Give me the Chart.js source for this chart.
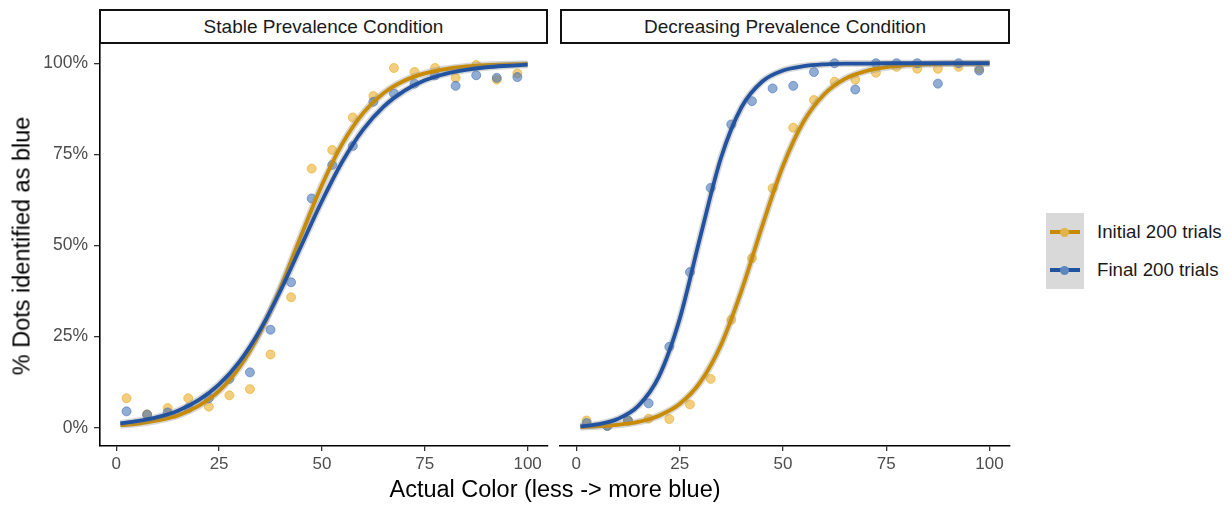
<!DOCTYPE html>
<html>
<head>
<meta charset="utf-8">
<script src="https://cdn.jsdelivr.net/npm/chart.js@4.4.1/dist/chart.umd.min.js"></script>
<style>
  html, body { margin:0; padding:0; background:#fff; }
  body { width:1231px; height:505px; position:relative; overflow:hidden;
         font-family:"Liberation Sans", Arial, Helvetica, sans-serif; }
  canvas { position:absolute; }
  .strip { position:absolute; top:9px; height:35px; box-sizing:border-box;
           border:2px solid #111; background:#fff; color:#1a1a1a;
           font-size:19px; line-height:32px; text-align:center; }
  .xtitle { position:absolute; left:0; width:1110px; top:476px; text-align:center;
            font-size:23.5px; color:#000; }
  .ytitle { position:absolute; left:22px; top:246px; transform:translate(-50%,-50%) rotate(-90deg);
            white-space:nowrap; font-size:23.5px; color:#000; }
  .legend { position:absolute; left:1046px; top:213px; }
  .key { position:absolute; left:0; width:38px; height:38px; background:#d9d9d9; }
  .key .ln { position:absolute; left:4px; width:30px; height:3.6px; top:17px; }
  .key .dt { position:absolute; left:14px; top:14.5px; width:9px; height:9px; border-radius:50%; }
  .lab { position:absolute; left:51px; font-size:18.7px; color:#1a1a1a; white-space:nowrap; line-height:38px; }
</style>
</head>
<body>
<canvas id="c1" width="556" height="480" style="left:0;top:0;width:556px;height:480px"></canvas>
<canvas id="c2" width="473" height="480" style="left:552px;top:0;width:473px;height:480px"></canvas>

<div class="strip" style="left:99px;width:449px">Stable Prevalence Condition</div>
<div class="strip" style="left:560px;width:450px">Decreasing Prevalence Condition</div>
<div class="xtitle">Actual Color (less -&gt; more blue)</div>
<div class="ytitle">% Dots identified as blue</div>

<div class="legend">
  <div class="key" style="top:0"><div class="ln" style="background:#C98B00"></div><div class="dt" style="background:#E2B34A"></div></div>
  <div class="lab" style="top:0">Initial 200 trials</div>
  <div class="key" style="top:38px"><div class="ln" style="background:#2253A0"></div><div class="dt" style="background:#5E86BF"></div></div>
  <div class="lab" style="top:38px">Final 200 trials</div>
</div>

<script>
// ---- data ----
const seriesNames = ["Initial 200 trials", "Final 200 trials"];
const panelTitles = ["Stable Prevalence Condition", "Decreasing Prevalence Condition"];
const binX = [2.5, 7.5, 12.5, 17.5, 22.5, 27.5, 32.5, 37.5, 42.5, 47.5,
              52.5, 57.5, 62.5, 67.5, 72.5, 77.5, 82.5, 87.5, 92.5, 97.5];
const xTicks = [0, 25, 50, 75, 100];
const yTicks = [0, 25, 50, 75, 100];

// observed points (% identified as blue)
const stableInitialPts = [8.1, 3.7, 5.4, 8.1, 5.8, 8.9, 10.6, 20.1, 35.8, 71.1,
                          76.2, 85.1, 91.0, 98.7, 97.6, 98.7, 96.0, 99.5, 95.5, 97.2];
const stableFinalPts   = [4.5, 3.6, 4.2, 5.4, 8.1, 13.4, 15.2, 26.9, 39.9, 62.9,
                          72.1, 77.3, 89.4, 91.7, 94.4, 96.7, 93.8, 96.7, 96.0, 96.2];
const decrInitialPts   = [2.0, 0.5, 2.0, 2.5, 2.4, 6.4, 13.4, 29.6, 46.5, 65.7,
                          82.3, 89.9, 94.9, 95.5, 97.4, 99.0, 98.5, 98.5, 99.0, 98.5];
const decrFinalPts     = [1.3, 0.5, 2.0, 6.7, 22.2, 42.7, 65.8, 83.2, 89.6, 93.1,
                          93.8, 97.6, 100, 92.8, 100, 100, 100, 94.4, 100, 98.0];

// fitted curves
const curveX = [1, 5, 10, 15, 20, 25, 30, 35, 40, 45, 50,
                55, 60, 65, 70, 75, 80, 85, 90, 95, 100];
const stableInitialFit = [0.7, 1.1, 2.0, 3.4, 6.0, 10.1, 16.7, 26.2, 38.7, 52.9, 66.6,
                          78.0, 86.3, 91.8, 95.2, 97.2, 98.4, 99.1, 99.5, 99.7, 99.8];
const stableFinalFit   = [1.2, 1.8, 2.9, 4.7, 7.6, 11.9, 18.2, 26.9, 37.8, 50.0, 62.2,
                          73.1, 81.8, 88.1, 92.4, 95.3, 97.1, 98.2, 98.9, 99.3, 99.6];
const decrInitialFit   = [0.2, 0.4, 0.8, 1.6, 3.3, 6.5, 12.5, 22.7, 37.7, 55.4, 71.8,
                          84.0, 91.5, 95.7, 97.8, 98.9, 99.5, 99.7, 99.9, 99.9, 100];
const decrFinalFit     = [0.4, 0.9, 2.4, 6.0, 14.1, 29.8, 52.4, 74.0, 88.0, 95.0, 98.0,
                          99.2, 99.7, 99.9, 99.9, 100, 100, 100, 100, 100, 100];

// ---- styles ----
const FONT = '"Liberation Sans", Arial, Helvetica, sans-serif';
const ORANGE = '#C98B00', BLUE = '#2253A0';
const ORANGE_PT = 'rgba(232,165,20,0.55)', BLUE_PT = 'rgba(55,105,180,0.55)';
const RIBBON = 'rgba(140,140,140,0.35)';

function pts(xs, ys) { return xs.map((x, i) => ({ x: x, y: ys[i] })); }

function datasets(initPts, finPts, initFit, finFit) {
  const line = (data, color, order, label) => ({
    type: 'line', label, data, borderColor: color, borderWidth: 3.8,
    pointRadius: 0, cubicInterpolationMode: 'monotone', fill: false, order
  });
  const ribbon = (data, order) => ({
    type: 'line', label: 'se', data, borderColor: RIBBON, borderWidth: 7,
    pointRadius: 0, cubicInterpolationMode: 'monotone', fill: false, order
  });
  const scatter = (data, color, order, label) => ({
    type: 'scatter', label, data, backgroundColor: color, borderColor: color,
    borderWidth: 1, pointRadius: 4.5, order
  });
  return [
    line(pts(curveX, finFit), BLUE, 1, seriesNames[1]),
    ribbon(pts(curveX, finFit), 2),
    line(pts(curveX, initFit), ORANGE, 3, seriesNames[0]),
    ribbon(pts(curveX, initFit), 4),
    scatter(pts(binX, finPts), BLUE_PT, 5, seriesNames[1]),
    scatter(pts(binX, initPts), ORANGE_PT, 6, seriesNames[0])
  ];
}

function makeChart(id, ds, showY, pad) {
  return new Chart(document.getElementById(id), {
    type: 'scatter',
    data: { datasets: ds },
    options: {
      responsive: false, animation: false, devicePixelRatio: 1,
      layout: { padding: pad },
      plugins: { legend: { display: false }, tooltip: { enabled: false }, title: { display: false } },
      scales: {
        x: {
          type: 'linear', position: 'bottom', min: -3.95, max: 104.95,
          afterFit: s => { s.height = 34; },
          afterBuildTicks: s => { s.ticks = xTicks.map(v => ({ value: v })); },
          grid: { drawOnChartArea: false, drawTicks: true, tickLength: 5, color: '#333', lineWidth: 1.3 },
          border: { display: true, color: '#000', width: 1.6 },
          ticks: { font: { size: 17, family: FONT }, color: '#4D4D4D', padding: 3,
                   maxRotation: 0, autoSkip: false }
        },
        y: {
          type: 'linear', display: showY, min: -5, max: 105,
          afterFit: s => { s.width = showY ? 100 : 0; },
          afterBuildTicks: s => { s.ticks = yTicks.map(v => ({ value: v })); },
          grid: { drawOnChartArea: false, drawTicks: true, tickLength: 6, color: '#333', lineWidth: 1.3 },
          border: { display: true, color: '#000', width: 1.6 },
          ticks: { font: { size: 17.5, family: FONT }, color: '#4D4D4D', padding: 6,
                   callback: v => v + '%' }
        }
      }
    }
  });
}

makeChart('c1', datasets(stableInitialPts, stableFinalPts, stableInitialFit, stableFinalFit),
          true, { top: 45, right: 8, left: 0, bottom: 0 });
makeChart('c2', datasets(decrInitialPts, decrFinalPts, decrInitialFit, decrFinalFit),
          false, { top: 45, right: 15, left: 8, bottom: 0 });
</script>
</body>
</html>
